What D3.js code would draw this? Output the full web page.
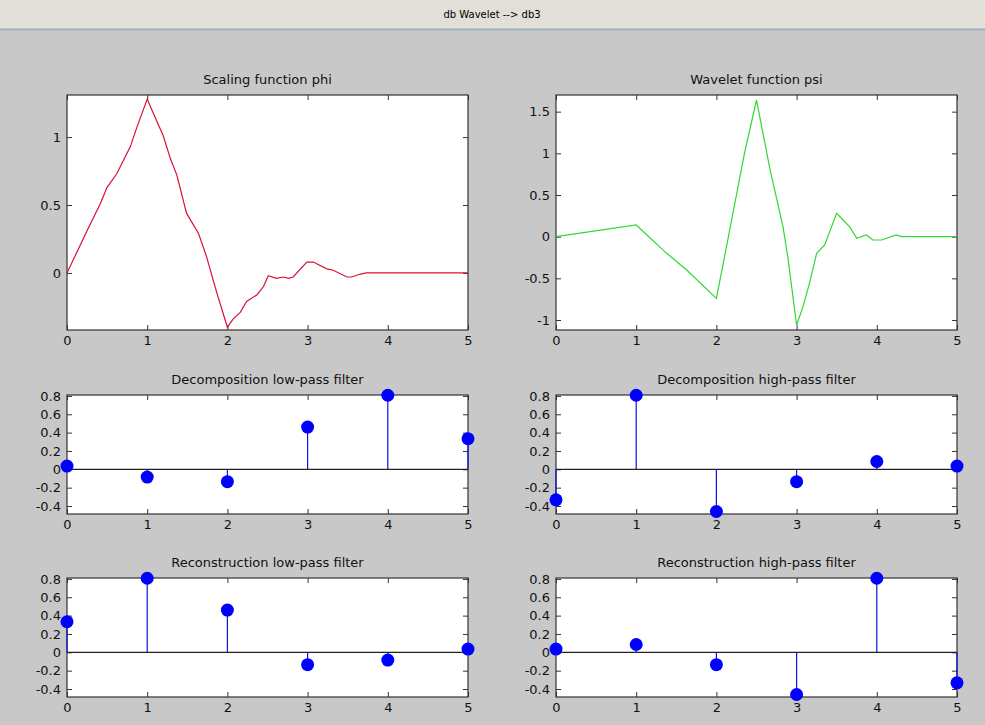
<!DOCTYPE html>
<html>
<head>
<meta charset="utf-8">
<script src="https://cdn.jsdelivr.net/npm/d3@7"></script>
<style>
  body { margin: 0; background: #c8c8c8; }
  text { font-family: "DejaVu Sans", sans-serif; }
</style>
</head>
<body>
<div id="chart"></div>
<script>
// data
const phiX = [0, 0.25, 0.415, 0.5, 0.62, 0.79, 0.87, 1.0, 1.08, 1.2, 1.29, 1.37, 1.49, 1.64, 1.74, 1.87, 2.0,
  2.07, 2.16, 2.24, 2.37, 2.45, 2.51, 2.61, 2.7, 2.76, 2.82, 2.99, 3.07, 3.24, 3.32, 3.49, 3.55, 3.65, 3.73, 5]
const phiY = [0, 0.31, 0.51, 0.63, 0.73, 0.93, 1.07, 1.28, 1.17, 1.01, 0.84, 0.72, 0.44, 0.29, 0.12, -0.15, -0.4,
  -0.34, -0.29, -0.21, -0.16, -0.1, -0.02, -0.04, -0.03, -0.04, -0.03, 0.08, 0.08, 0.03, 0.02, -0.03, -0.03, -0.01, 0, 0]

const psiX = [0, 1.0, 1.38, 1.63, 2.0, 2.15, 2.25, 2.35, 2.5, 2.67, 2.83, 2.89, 3.0, 3.08, 3.16, 3.25, 3.35,
  3.5, 3.58, 3.66, 3.75, 3.87, 3.95, 4.06, 4.24, 4.31, 5]
const psiY = [0, 0.14, -0.2, -0.4, -0.74, 0.0, 0.5, 1.0, 1.64, 0.8, 0.12, -0.24, -1.06, -0.84, -0.56, -0.2, -0.1,
  0.28, 0.2, 0.12, -0.02, 0.02, -0.04, -0.04, 0.02, 0, 0]

const taps = [0, 1, 2, 3, 4, 5]
const loD = [0.035, -0.085, -0.135, 0.46, 0.807, 0.333]
const hiD = [-0.333, 0.807, -0.46, -0.135, 0.085, 0.035]
const loR = [0.333, 0.807, 0.46, -0.135, -0.085, 0.035]
const hiR = [0.035, 0.085, -0.135, -0.46, 0.807, -0.333]

const xTicks = [0, 1, 2, 3, 4, 5]
const phiTicks = [0, 0.5, 1]
const psiTicks = [-1, -0.5, 0, 0.5, 1, 1.5]
const filterTicks = [-0.4, -0.2, 0, 0.2, 0.4, 0.6, 0.8]

const w = 985
const h = 725

const svg = d3.select('#chart')
  .append('svg')
  .attr('width', w)
  .attr('height', h)

svg.append('rect')
  .attr('width', w).attr('height', h)
  .attr('fill', '#c8c8c8')

// window title strip
svg.append('rect')
  .attr('width', w).attr('height', 29)
  .attr('fill', '#e1dfd8')
svg.append('line')
  .attr('x1', 0).attr('x2', w)
  .attr('y1', 29.5).attr('y2', 29.5)
  .attr('stroke', '#9fb0c0')
  .attr('stroke-width', 2)
svg.append('text')
  .attr('x', 492).attr('y', 18)
  .attr('text-anchor', 'middle')
  .style('font-size', '10px')
  .text('db Wavelet --> db3')

const fmt = d => String(+d.toFixed(2))

function panel(box, ylim, yTicks, title) {
  const x = d3.scaleLinear().domain([0, 5]).range([box.left, box.right])
  const y = d3.scaleLinear().domain(ylim).range([box.bottom, box.top])
  const g = svg.append('g')

  g.append('rect')
    .attr('x', box.left).attr('y', box.top)
    .attr('width', box.right - box.left)
    .attr('height', box.bottom - box.top)
    .attr('fill', '#fff')

  const axes = [
    [d3.axisBottom(x).tickValues(xTicks).tickFormat(fmt), `translate(0,${box.bottom})`],
    [d3.axisTop(x).tickValues(xTicks).tickFormat(''), `translate(0,${box.top})`],
    [d3.axisLeft(y).tickValues(yTicks).tickFormat(fmt), `translate(${box.left},0)`],
    [d3.axisRight(y).tickValues(yTicks).tickFormat(''), `translate(${box.right},0)`]
  ]
  axes.forEach(([ax, tr]) => {
    const a = g.append('g')
      .attr('transform', tr)
      .call(ax.tickSize(-5).tickSizeOuter(0).tickPadding(6))
    a.select('.domain').remove()
    a.selectAll('line').attr('stroke', '#333')
    a.selectAll('text')
      .style('font-size', '13px')
      .style('font-family', '"DejaVu Sans", sans-serif')
      .attr('fill', '#111')
  })

  g.append('rect')
    .attr('x', box.left).attr('y', box.top)
    .attr('width', box.right - box.left)
    .attr('height', box.bottom - box.top)
    .attr('fill', 'none')
    .attr('stroke', '#333')
    .attr('stroke-width', 1.2)

  g.append('text')
    .attr('x', (box.left + box.right) / 2)
    .attr('y', box.top - 11)
    .attr('text-anchor', 'middle')
    .style('font-size', '13px')
    .attr('fill', '#111')
    .text(title)

  return { g, x, y }
}

function curve(p, xs, ys, color) {
  const line = d3.line()
    .x(d => p.x(d[0]))
    .y(d => p.y(d[1]))
  p.g.append('path')
    .datum(xs.map((v, i) => [v, ys[i]]))
    .attr('d', line)
    .attr('fill', 'none')
    .attr('stroke', color)
    .attr('stroke-width', 1.2)
}

function stems(p, vals) {
  p.g.append('line')
    .attr('x1', p.x(0)).attr('x2', p.x(5))
    .attr('y1', p.y(0)).attr('y2', p.y(0))
    .attr('stroke', '#222')
    .attr('stroke-width', 1.2)
  p.g.selectAll('.stem')
    .data(taps)
    .enter()
    .append('line')
    .attr('x1', d => p.x(d)).attr('x2', d => p.x(d))
    .attr('y1', p.y(0)).attr('y2', d => p.y(vals[d]))
    .attr('stroke', '#1010e0')
    .attr('stroke-width', 1.2)
  p.g.selectAll('.dot')
    .data(taps)
    .enter()
    .append('circle')
    .attr('cx', d => p.x(d))
    .attr('cy', d => p.y(vals[d]))
    .attr('r', 6.5)
    .attr('fill', '#0000ff')
}

const colL = { left: 67, right: 468 }
const colR = { left: 556, right: 957 }
const filterLim = [-0.487, 0.81]

const phi = panel({ ...colL, top: 95, bottom: 330 }, [-0.42, 1.31], phiTicks, 'Scaling function phi')
curve(phi, phiX, phiY, '#d81038')

const psi = panel({ ...colR, top: 95, bottom: 330 }, [-1.12, 1.70], psiTicks, 'Wavelet function psi')
curve(psi, psiX, psiY, '#30d830')

stems(panel({ ...colL, top: 395, bottom: 514 }, filterLim, filterTicks, 'Decomposition low-pass filter'), loD)
stems(panel({ ...colR, top: 395, bottom: 514 }, filterLim, filterTicks, 'Decomposition high-pass filter'), hiD)
stems(panel({ ...colL, top: 578, bottom: 697 }, filterLim, filterTicks, 'Reconstruction low-pass filter'), loR)
stems(panel({ ...colR, top: 578, bottom: 697 }, filterLim, filterTicks, 'Reconstruction high-pass filter'), hiR)
</script>
</body>
</html>
